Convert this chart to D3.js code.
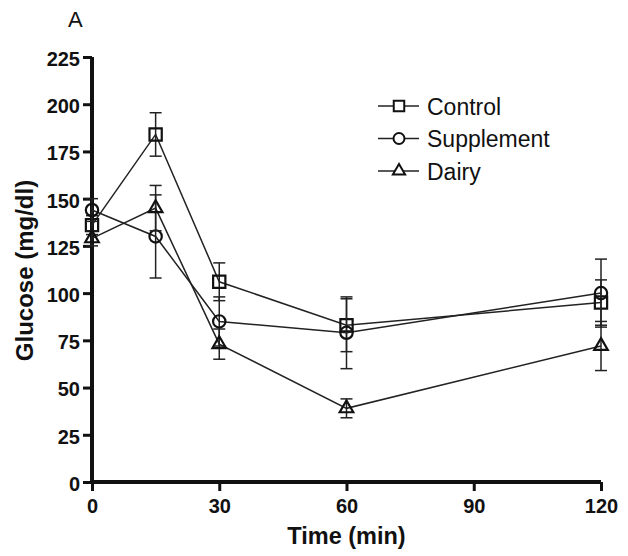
<!DOCTYPE html>
<html lang="en">
<head>
<title>Glucose</title>
<meta charset="utf-8">
<script src="https://d3js.org/d3.v7.min.js"></script>
<style>
	body { margin: 0; background: #fff; }
	text { font-family: "Liberation Sans", Arial, sans-serif; fill: #111; }
</style>
</head>
<body>
<div id="chart"></div>

<script type="text/javascript">
	// data (mean, error)
	var times = [0, 15, 30, 60, 120];
	var control = [136, 184, 106, 83, 95],
		controlErr = [5, 11.5, 10, 14, 12];
	var supplement = [144, 130, 85, 79, 100],
		supplementErr = [6, 22, 13, 19, 18];
	var dairy = [129, 145, 73, 39, 72],
		dairyErr = [4, 12, 8, 5, 13];
	var seriesNames = ['Control', 'Supplement', 'Dairy'];
	var xTicks = [0, 30, 60, 90, 120],
		yTicks = [0, 25, 50, 75, 100, 125, 150, 175, 200, 225];

	var W = 628, H = 556;
	var svg = d3.select("#chart")
		.append("svg")
		.attr("width", W)
		.attr("height", H);

	var x = d3.scaleLinear().domain([0, 120]).range([92, 601]);
	var y = d3.scaleLinear().domain([0, 225]).range([482, 57]);

	var symbols = [
		d3.symbol().type(d3.symbolSquare).size(150),
		d3.symbol().type(d3.symbolCircle).size(120),
		d3.symbol().type(d3.symbolTriangle).size(80)
	];
	var legendSymbols = [
		d3.symbol().type(d3.symbolSquare).size(110),
		d3.symbol().type(d3.symbolCircle).size(95),
		d3.symbol().type(d3.symbolTriangle).size(65)
	];

	var series = [
		{name: seriesNames[0], vals: control, err: controlErr},
		{name: seriesNames[1], vals: supplement, err: supplementErr},
		{name: seriesNames[2], vals: dairy, err: dairyErr}
	];

	// axes
	var yAxis = svg.append("g")
		.attr("transform", "translate(" + x(0) + ",0)")
		.call(d3.axisLeft(y).tickValues(yTicks).tickSize(9).tickSizeOuter(0).tickPadding(3));
	var xAxis = svg.append("g")
		.attr("transform", "translate(0," + y(0) + ")")
		.call(d3.axisBottom(x).tickValues(xTicks).tickSize(9).tickSizeOuter(0).tickPadding(8));

	[xAxis, yAxis].forEach(function(a){
		a.attr("font-size", null).attr("font-family", null);
		a.select(".domain").attr("stroke", "#111").attr("stroke-width", 4);
		a.selectAll(".tick line").attr("stroke", "#111").attr("stroke-width", 3);
		a.selectAll(".tick text")
			.style("font-size", "20px")
			.style("font-weight", "bold")
			.attr("fill", "#111");
	});
	yAxis.selectAll(".tick text").attr("dy", "0.42em");
	yAxis.select(".domain").attr("d", "M0," + (y(0) + 2) + "V" + y(225));
	xAxis.select(".domain").attr("d", "M" + (x(0) - 2) + ",0H" + x(120));

	// error bars, lines, markers
	var line = d3.line()
		.x(function(d, i) { return x(times[i]); })
		.y(function(d) { return y(d); });

	series.forEach(function(s, k){
		var g = svg.append("g");
		s.vals.forEach(function(v, i){
			var cx = x(times[i]), lo = y(v - s.err[i]), hi = y(v + s.err[i]);
			g.append("line").attr("x1", cx).attr("x2", cx).attr("y1", lo).attr("y2", hi);
			g.append("line").attr("x1", cx - 6).attr("x2", cx + 6).attr("y1", lo).attr("y2", lo);
			g.append("line").attr("x1", cx - 6).attr("x2", cx + 6).attr("y1", hi).attr("y2", hi);
		});
		g.selectAll("line").attr("stroke", "#222").attr("stroke-width", 1.5);

		svg.append("path")
			.datum(s.vals)
			.attr("d", line)
			.attr("fill", "none")
			.attr("stroke", "#222")
			.attr("stroke-width", 1.5);

		svg.selectAll(".m" + k)
			.data(s.vals)
			.enter()
			.append("path")
			.attr("transform", function(d, i) { return "translate(" + x(times[i]) + "," + y(d) + ")"; })
			.attr("d", symbols[k])
			.attr("fill", "none")
			.attr("stroke", "#111")
			.attr("stroke-width", 2.2);
	});

	// legend
	var legend = svg.append("g").attr("transform", "translate(378,106)");
	seriesNames.forEach(function(n, k){
		var row = legend.append("g").attr("transform", "translate(0," + (k * 32.5) + ")");
		row.append("line").attr("x1", 0).attr("x2", 41).attr("y1", 0).attr("y2", 0)
			.attr("stroke", "#222").attr("stroke-width", 1.5);
		row.append("path").attr("d", legendSymbols[k]).attr("transform", "translate(21,0)")
			.attr("fill", "#fff").attr("stroke", "#111").attr("stroke-width", 2);
		row.append("text").attr("x", 49).attr("y", 8.5)
			.style("font-size", "23px")
			.text(n);
	});

	// titles
	svg.append("text")
		.attr("x", (x(0) + x(120)) / 2)
		.attr("y", 544)
		.attr("text-anchor", "middle")
		.style("font-size", "23.5px")
		.style("font-weight", "bold")
		.text("Time (min)");

	svg.append("text")
		.attr("transform", "translate(33," + ((y(0) + y(225)) / 2 + 1) + ") rotate(-90)")
		.attr("text-anchor", "middle")
		.style("font-size", "24px")
		.style("font-weight", "bold")
		.text("Glucose (mg/dl)");

	svg.append("text")
		.attr("x", 68)
		.attr("y", 27)
		.style("font-size", "22px")
		.text("A");
</script>
</body>
</html>
